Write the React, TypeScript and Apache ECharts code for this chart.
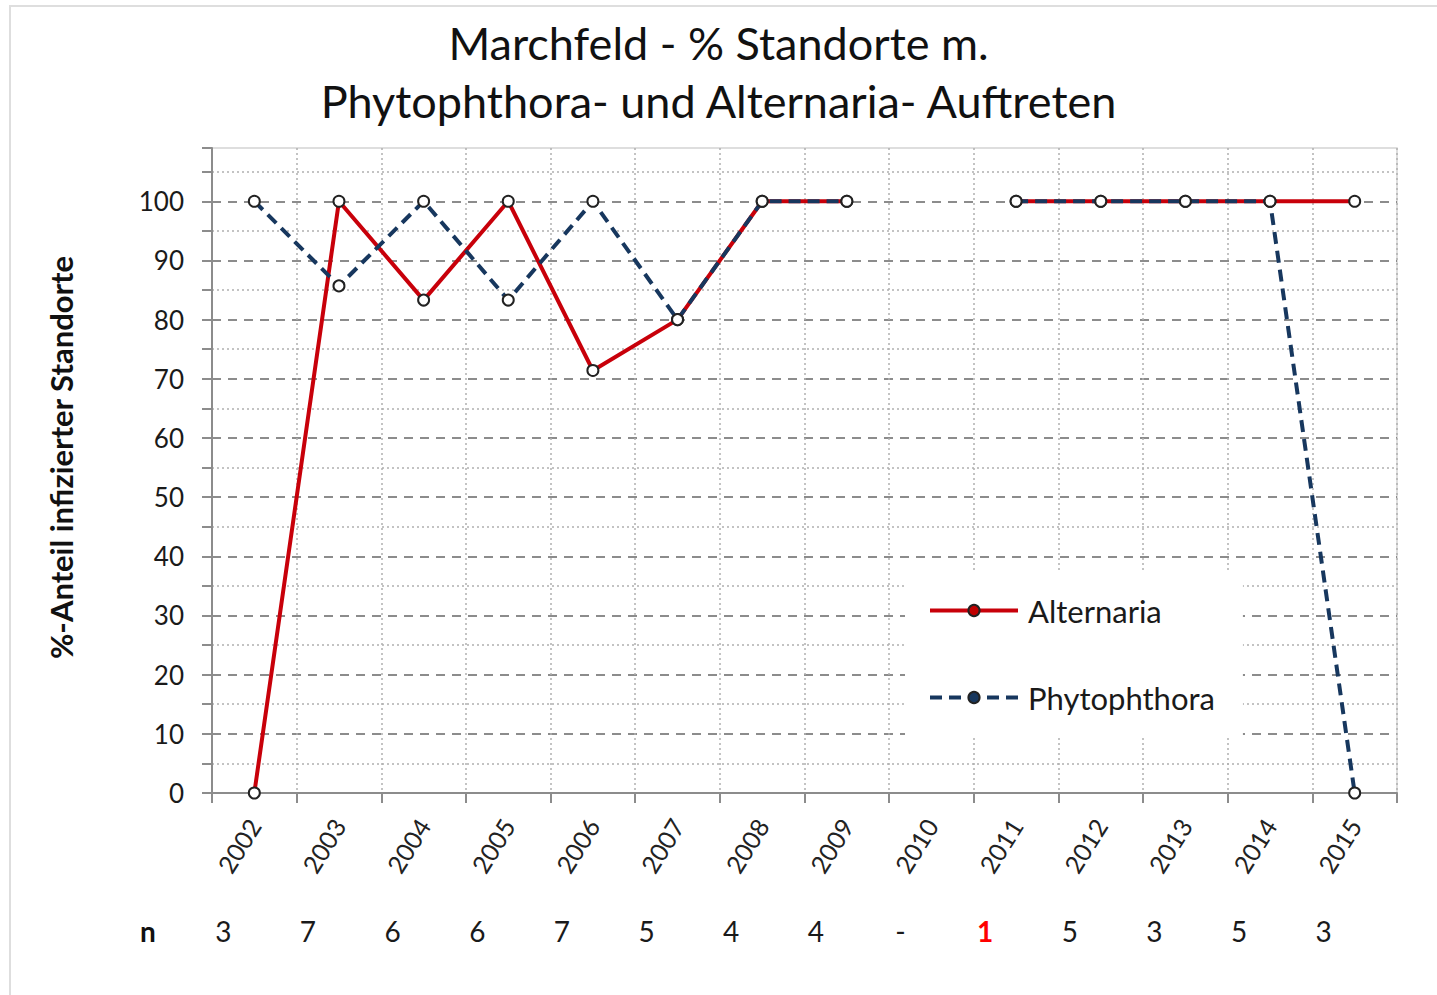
import React, { useEffect, useRef } from "react";
import * as echarts from "echarts";

const years = ["2002", "2003", "2004", "2005", "2006", "2007", "2008", "2009", "2010", "2011", "2012", "2013", "2014", "2015"];
const alternaria: (number | null)[] = [0, 100, 83.3, 100, 71.4, 80, 100, 100, null, 100, 100, 100, 100, 100];
const phytophthora: (number | null)[] = [100, 85.7, 100, 83.3, 100, 80, 100, 100, null, 100, 100, 100, 100, 0];
const nCounts = ["3", "7", "6", "6", "7", "5", "4", "4", "-", "1", "5", "3", "5", "3"];
const nHighlighted = ["2011"];
const yTicks = [0, 10, 20, 30, 40, 50, 60, 70, 80, 90, 100];

const titleText = "Marchfeld - % Standorte m.\nPhytophthora- und Alternaria- Auftreten";
const yName = "%-Anteil infizierter Standorte";

const FONT = "Lato, 'Open Sans', sans-serif";

export default function App() {
  const ref = useRef<HTMLDivElement>(null);
  useEffect(() => {
    if (!ref.current) return;
    const chart = echarts.init(ref.current, undefined, { renderer: "svg" });
    const gridColor = "#8c8c8c";
    const splitColors = yTicks.map(() => gridColor).concat(["rgba(0,0,0,0)"]);
    chart.setOption({
      animation: false,
      backgroundColor: "#fff",
      textStyle: { fontFamily: FONT },
      title: {
        text: titleText,
        left: "center",
        top: 14,
        padding: [0, 0, 0, 12],
        textStyle: { fontFamily: FONT, fontSize: 45, fontWeight: "normal", color: "#111", lineHeight: 58 },
      },
      graphic: [
        {
          type: "rect",
          shape: { x: 10, y: 6, width: 1460, height: 1020 },
          style: { fill: "none", stroke: "#dedede", lineWidth: 2 },
          silent: true,
          z: -10,
        },
        {
          type: "text",
          x: 148,
          y: 931,
          style: { text: "n", fontFamily: FONT, fontSize: 28, fontWeight: "bold", fill: "#111", textAlign: "center", textVerticalAlign: "middle" },
        },
      ],
      legend: {
        orient: "vertical",
        left: 905,
        top: 571,
        padding: [24, 28, 24, 23],
        backgroundColor: "#fff",
        itemWidth: 88,
        itemHeight: 14,
        itemGap: 56,
        lineStyle: { width: 4 },
        textStyle: { fontFamily: FONT, fontSize: 31, color: "#1a1a1a", padding: [0, 0, 0, 5] },
        data: [
          { name: "Alternaria", itemStyle: { color: "#c00000", borderColor: "#222", borderWidth: 2 } },
          { name: "Phytophthora", itemStyle: { color: "#17375e", borderColor: "#222", borderWidth: 2 } },
        ],
        z: 5,
      },
      grid: {
        left: 212,
        right: 40,
        top: 148,
        bottom: 202,
        show: true,
        borderColor: "#d4d4d4",
        borderWidth: 1.5,
        backgroundColor: "transparent",
      },
      xAxis: [
        {
          type: "category",
          data: years,
          boundaryGap: true,
          axisLine: { show: true, lineStyle: { color: gridColor, width: 2 } },
          axisTick: { show: true, length: 10, lineStyle: { color: gridColor, width: 2 } },
          splitLine: { show: true, lineStyle: { color: "#b0b0b0", type: [2, 3], width: 1.5 } },
          axisLabel: { interval: 0, rotate: 58, margin: 28, fontSize: 25, color: "#222", fontFamily: FONT },
        },
        {
          type: "category",
          data: years,
          position: "bottom",
          boundaryGap: true,
          axisLine: { show: false },
          axisTick: { show: false },
          splitLine: { show: false },
          axisLabel: {
            interval: 0,
            margin: 124,
            formatter: (v: string, i: number) =>
              nHighlighted.indexOf(v) >= 0 ? `{r|${nCounts[i]}}` : `{b|${nCounts[i]}}`,
            rich: {
              b: { fontSize: 28, fontFamily: FONT, color: "#1a1a1a", padding: [0, 62, 0, 0] },
              r: { fontSize: 28, fontFamily: FONT, fontWeight: "bold", color: "#ff0000", padding: [0, 62, 0, 0] },
            },
          },
        },
      ],
      yAxis: {
        type: "value",
        min: 0,
        max: 109,
        interval: 10,
        name: yName,
        nameLocation: "middle",
        nameRotate: 90,
        nameGap: 136,
        nameTextStyle: { fontFamily: FONT, fontSize: 31, fontWeight: "bold", color: "#111", padding: [0, 0, 0, 26] },
        axisLine: { show: true, lineStyle: { color: gridColor, width: 2 } },
        axisTick: { show: true, length: 10, lineStyle: { color: gridColor, width: 2 } },
        minorTick: { show: true, splitNumber: 2, length: 10, lineStyle: { color: gridColor, width: 2 } },
        splitLine: { show: true, lineStyle: { color: splitColors, type: [9, 7], width: 2 } },
        minorSplitLine: { show: true, lineStyle: { color: "#b0b0b0", type: [2, 3], width: 1.5 } },
        axisLabel: {
          margin: 28,
          fontSize: 26,
          color: "#1a1a1a",
          fontFamily: FONT,
          formatter: (v: number) => (yTicks.indexOf(v) >= 0 ? String(v) : ""),
        },
      },
      series: [
        {
          name: "Alternaria",
          type: "line",
          data: alternaria,
          symbol: "circle",
          symbolSize: 11,
          showSymbol: true,
          lineStyle: { color: "#c8000a", width: 4 },
          itemStyle: { color: "#ffffff", borderColor: "#222", borderWidth: 2 },
          z: 3,
        },
        {
          name: "Phytophthora",
          type: "line",
          data: phytophthora,
          symbol: "circle",
          symbolSize: 11,
          showSymbol: true,
          lineStyle: { color: "#17375e", width: 4, type: [12, 7] },
          itemStyle: { color: "#ffffff", borderColor: "#222", borderWidth: 2 },
          z: 4,
        },
      ],
    });
    return () => chart.dispose();
  }, []);
  return <div ref={ref} style={{ position: "absolute", left: 0, top: 0, width: 1437, height: 995 }} />;
}
